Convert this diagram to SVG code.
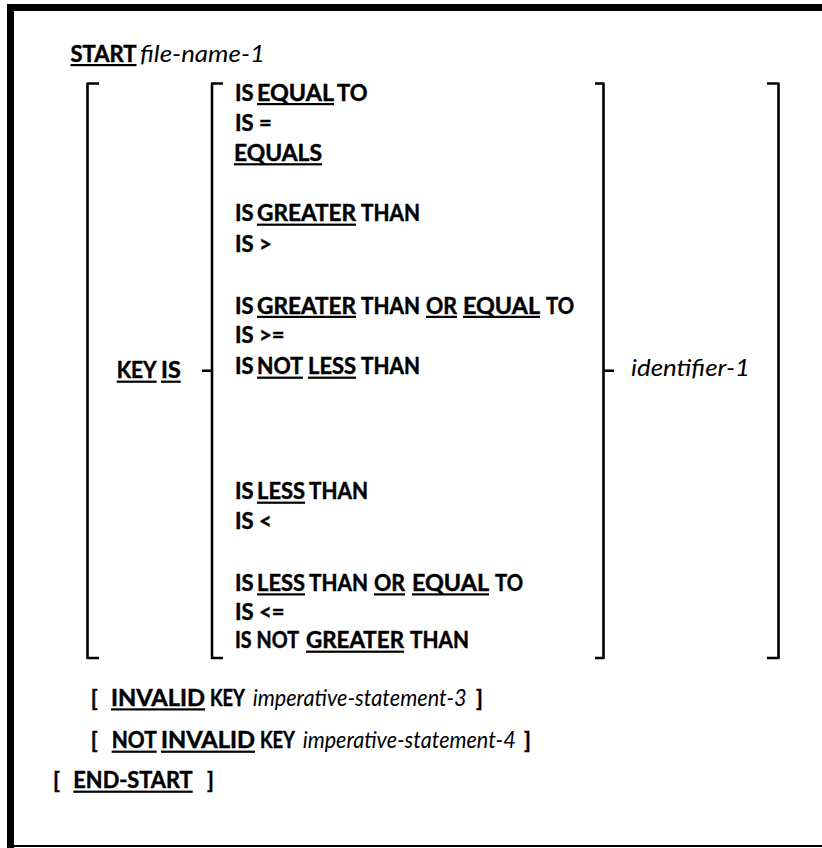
<svg xmlns="http://www.w3.org/2000/svg" width="822" height="848" viewBox="0 0 822 848">
<style>
.b{font-family:Lato,"Liberation Sans",sans-serif;font-weight:bold;font-size:22px;fill:#000;stroke:#000;stroke-width:0.45}
.i{font-family:Lato,"Liberation Sans",sans-serif;font-style:italic;font-size:22.5px;fill:#000}
.br{fill:none;stroke:#000;stroke-width:2.6;stroke-linejoin:round}
.u{fill:#000}
</style>
<rect width="822" height="848" fill="#fff"/>
<g id="frame">
<rect x="7" y="4" width="7" height="844" fill="#000"/>
<rect x="7" y="4" width="815" height="7" fill="#000"/>
<rect x="7" y="845" width="815" height="2" fill="#000"/>
</g>
<g id="start">
<text class="b" x="70.5" y="61.7" textLength="66" lengthAdjust="spacingAndGlyphs">START</text>
<rect class="u" x="70.5" y="64" width="66" height="2.2"/>
<text class="i" x="140" y="61.7" textLength="125" lengthAdjust="spacingAndGlyphs">file-name-1</text>
</g>
<g id="brackets">
<path class="br" d="M99 83.5H87.5V658H99"/>
<path class="br" d="M223 83.5H212V658H223M212 370.7H202"/>
<path class="br" d="M595 83.5H603.5V658H595M603.5 370.7H614"/>
<path class="br" d="M767 83.5H778.5V658H767"/>
</g>
<g id="key-is">
<text class="b" x="116.7" y="378.3" textLength="40" lengthAdjust="spacingAndGlyphs">KEY</text>
<rect class="u" x="116.7" y="380.6" width="40" height="2.2"/>
<text class="b" x="161" y="378.3" textLength="19.7" lengthAdjust="spacingAndGlyphs">IS</text>
<rect class="u" x="161" y="380.6" width="19.7" height="2.2"/>
</g>
<g id="operators">
<text class="b" x="235" y="100.7">IS</text>
<text class="b" x="257" y="100.7" textLength="77" lengthAdjust="spacingAndGlyphs">EQUAL</text>
<rect class="u" x="257" y="103" width="77" height="2.2"/>
<text class="b" x="337" y="100.7">TO</text>

<text class="b" x="235" y="130.7">IS</text>
<text class="b" x="259" y="130.7">=</text>

<text class="b" x="234" y="160.5" textLength="88" lengthAdjust="spacingAndGlyphs">EQUALS</text>
<rect class="u" x="234" y="163.2" width="88" height="2.2"/>

<text class="b" x="235" y="221.3">IS</text>
<text class="b" x="257" y="221.3" textLength="99" lengthAdjust="spacingAndGlyphs">GREATER</text>
<rect class="u" x="257" y="223.6" width="99" height="2.2"/>
<text class="b" x="361" y="221.3" textLength="59" lengthAdjust="spacingAndGlyphs">THAN</text>

<text class="b" x="235" y="251.7">IS</text>
<text class="b" x="259" y="251.7">&gt;</text>

<text class="b" x="235" y="313.5">IS</text>
<text class="b" x="257" y="313.5" textLength="99" lengthAdjust="spacingAndGlyphs">GREATER</text>
<rect class="u" x="257" y="315.8" width="99" height="2.2"/>
<text class="b" x="361" y="313.5" textLength="59" lengthAdjust="spacingAndGlyphs">THAN</text>
<text class="b" x="426" y="313.5" textLength="31" lengthAdjust="spacingAndGlyphs">OR</text>
<rect class="u" x="426" y="315.8" width="31" height="2.2"/>
<text class="b" x="463" y="313.5" textLength="77" lengthAdjust="spacingAndGlyphs">EQUAL</text>
<rect class="u" x="463" y="315.8" width="77" height="2.2"/>
<text class="b" x="546" y="313.5" textLength="28" lengthAdjust="spacingAndGlyphs">TO</text>

<text class="b" x="235" y="343">IS</text>
<text class="b" x="259" y="343">&gt;=</text>

<text class="b" x="235" y="374.3">IS</text>
<text class="b" x="257" y="374.3" textLength="46" lengthAdjust="spacingAndGlyphs">NOT</text>
<rect class="u" x="257" y="376.6" width="46" height="2.2"/>
<text class="b" x="308" y="374.3" textLength="48" lengthAdjust="spacingAndGlyphs">LESS</text>
<rect class="u" x="308" y="376.6" width="48" height="2.2"/>
<text class="b" x="361" y="374.3" textLength="59" lengthAdjust="spacingAndGlyphs">THAN</text>

<text class="b" x="235" y="499.3">IS</text>
<text class="b" x="257" y="499.3" textLength="48" lengthAdjust="spacingAndGlyphs">LESS</text>
<rect class="u" x="257" y="501.6" width="48" height="2.2"/>
<text class="b" x="309" y="499.3" textLength="59" lengthAdjust="spacingAndGlyphs">THAN</text>

<text class="b" x="235" y="528.5">IS</text>
<text class="b" x="259" y="528.5">&lt;</text>

<text class="b" x="235" y="591">IS</text>
<text class="b" x="257" y="591" textLength="48" lengthAdjust="spacingAndGlyphs">LESS</text>
<rect class="u" x="257" y="593.3" width="48" height="2.2"/>
<text class="b" x="309" y="591" textLength="59" lengthAdjust="spacingAndGlyphs">THAN</text>
<text class="b" x="374" y="591" textLength="31" lengthAdjust="spacingAndGlyphs">OR</text>
<rect class="u" x="374" y="593.3" width="31" height="2.2"/>
<text class="b" x="412" y="591" textLength="77" lengthAdjust="spacingAndGlyphs">EQUAL</text>
<rect class="u" x="412" y="593.3" width="77" height="2.2"/>
<text class="b" x="495" y="591" textLength="28" lengthAdjust="spacingAndGlyphs">TO</text>

<text class="b" x="235" y="620">IS</text>
<text class="b" x="259" y="620">&lt;=</text>

<text class="b" x="235" y="648.3" textLength="64" lengthAdjust="spacingAndGlyphs">IS NOT</text>
<text class="b" x="306" y="648.3" textLength="98" lengthAdjust="spacingAndGlyphs">GREATER</text>
<rect class="u" x="306" y="650.6" width="98" height="2.2"/>
<text class="b" x="410" y="648.3" textLength="59" lengthAdjust="spacingAndGlyphs">THAN</text>
</g>
<g id="identifier">
<text class="i" x="631" y="376" textLength="119" lengthAdjust="spacingAndGlyphs">identifier-1</text>
</g>
<g id="invalid-key">
<text class="b" x="90.7" y="706">[</text>
<text class="b" x="111" y="706" textLength="94" lengthAdjust="spacingAndGlyphs">INVALID</text>
<rect class="u" x="111" y="708.3" width="94" height="2.2"/>
<text class="b" x="210" y="706" textLength="35" lengthAdjust="spacingAndGlyphs">KEY</text>
<text class="i" x="252.7" y="706" textLength="214" lengthAdjust="spacingAndGlyphs">imperative-statement-3</text>
<text class="b" x="476" y="706">]</text>
</g>
<g id="not-invalid-key">
<text class="b" x="90.7" y="748.3">[</text>
<text class="b" x="111.7" y="748.3" textLength="45" lengthAdjust="spacingAndGlyphs">NOT</text>
<rect class="u" x="111.7" y="750.6" width="45" height="2.2"/>
<text class="b" x="161" y="748.3" textLength="94" lengthAdjust="spacingAndGlyphs">INVALID</text>
<rect class="u" x="161" y="750.6" width="94" height="2.2"/>
<text class="b" x="260" y="748.3" textLength="35" lengthAdjust="spacingAndGlyphs">KEY</text>
<text class="i" x="302.7" y="748.3" textLength="213" lengthAdjust="spacingAndGlyphs">imperative-statement-4</text>
<text class="b" x="524" y="748.3">]</text>
</g>
<g id="end-start">
<text class="b" x="53" y="788.3">[</text>
<text class="b" x="73.3" y="788.3" textLength="119.4" lengthAdjust="spacingAndGlyphs">END-START</text>
<rect class="u" x="73.3" y="790.6" width="119.4" height="2.2"/>
<text class="b" x="207" y="788.3">]</text>
</g>
</svg>
